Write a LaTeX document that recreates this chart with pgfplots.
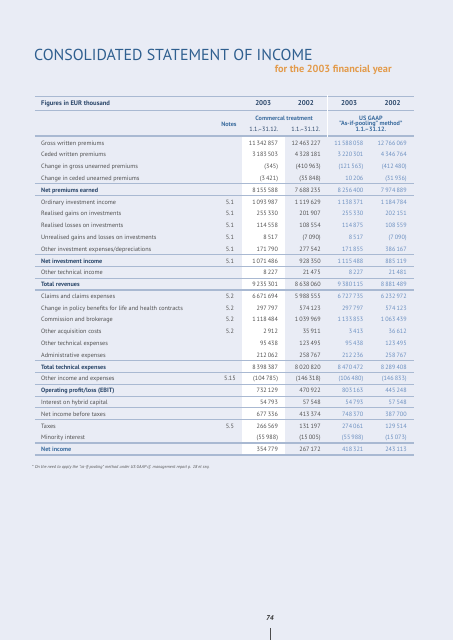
\documentclass[border=0pt]{standalone}
\usepackage{pgfplots}
\pgfplotsset{compat=1.18}
\usepackage{fontspec}
\setmainfont{PT Sans}
\definecolor{bg}{HTML}{E9ECF5}
\definecolor{rule}{HTML}{A9B9D2}
\definecolor{titleblue}{HTML}{2F5F8F}
\definecolor{orng}{HTML}{E39B4B}
\definecolor{navy}{HTML}{2A4669}
\definecolor{labgray}{HTML}{505050}
\definecolor{subblue}{HTML}{3B6C9E}
\definecolor{gaap}{HTML}{6B8FC0}
\newcommand{\fs}{\fontsize{6.2}{7}\selectfont}
\tikzset{
  lab/.style={anchor=mid west,inner sep=0pt,text=labgray,font=\fs},
  labb/.style={anchor=mid west,inner sep=0pt,text=navy,font=\fs\bfseries},
  labn/.style={anchor=mid west,inner sep=0pt,text=subblue,font=\fs\bfseries},
  note/.style={anchor=mid,inner sep=0pt,text=labgray,font=\fs},
  num/.style={anchor=mid east,inner sep=0pt,text=labgray,font=\fs},
  gnum/.style={anchor=mid east,inner sep=0pt,text=gaap,font=\fs},
  rl/.style={draw=rule,line width=1pt},
  rt/.style={draw=rule,line width=1.6pt},
}
% \R{y}{label style}{label}{note}{v1}{v2}{v3}{v4}
\newcommand{\R}[8]{%
  \node[#2] at (axis cs:41,#1) {#3};
  \node[note] at (axis cs:230,#1) {#4};
  \node[num] at (axis cs:278.3,#1) {#5};
  \node[num] at (axis cs:321,#1) {#6};
  \node[gnum] at (axis cs:363.7,#1) {#7};
  \node[gnum] at (axis cs:407,#1) {#8};
}
\newcommand{\HL}[2]{\draw[#2] (axis cs:35,#1) -- (axis cs:414,#1);}
\begin{document}
\begin{tikzpicture}
\begin{axis}[
  width=453pt, height=640pt, scale only axis,
  xmin=0, xmax=453, ymin=0, ymax=640, y dir=reverse,
  axis line style={draw=none}, xtick=\empty, ytick=\empty,
  clip=false,
]
\fill[bg] (axis cs:0,0) rectangle (axis cs:453,640);
% title
\node[anchor=mid west,inner sep=0pt,text=titleblue,font=\fontsize{15.9}{16}\selectfont] at (axis cs:34,58) {CONSOLIDATED STATEMENT OF INCOME};
\node[anchor=mid east,inner sep=0pt,text=orng,font=\fontsize{10.3}{11}\selectfont\bfseries] at (axis cs:392,70) {for the 2003 financial year};
% white column
\fill[white] (axis cs:242,136.3) rectangle (axis cs:285,455.1);
% header
\HL{96.7}{rt}
\HL{110.7}{rl}
\HL{136.3}{rt}
\draw[white,line width=1pt] (axis cs:328,95.5) -- (axis cs:328,137.5);
\node[labb,font=\fontsize{6.6}{7}\selectfont\bfseries] at (axis cs:41,103.3) {Figures in EUR thousand};
\node[anchor=mid,inner sep=0pt,text=navy,font=\fontsize{7}{8}\selectfont\bfseries] at (axis cs:263.3,103.3) {2003};
\node[anchor=mid,inner sep=0pt,text=navy,font=\fontsize{7}{8}\selectfont\bfseries] at (axis cs:306,103.3) {2002};
\node[anchor=mid,inner sep=0pt,text=navy,font=\fontsize{7}{8}\selectfont\bfseries] at (axis cs:349.3,103.3) {2003};
\node[anchor=mid,inner sep=0pt,text=navy,font=\fontsize{7}{8}\selectfont\bfseries] at (axis cs:392.7,103.3) {2002};
\node[anchor=mid,inner sep=0pt,text=subblue,font=\fs\bfseries] at (axis cs:284.3,117.7) {Commercal treatment};
\node[anchor=mid,inner sep=0pt,text=subblue,font=\fs\bfseries] at (axis cs:229,123.7) {Notes};
\node[anchor=mid,inner sep=0pt,text=navy,font=\fs] at (axis cs:264,129.3) {1.1.–31.12.};
\node[anchor=mid,inner sep=0pt,text=navy,font=\fs] at (axis cs:306,129.3) {1.1.–31.12.};
\node[anchor=mid,inner sep=0pt,text=subblue,font=\fs\bfseries] at (axis cs:371,117.7) {US GAAP};
\node[anchor=mid,inner sep=0pt,text=subblue,font=\fs\bfseries] at (axis cs:371,123.5) {"As-if-pooling" method*};
\node[anchor=mid,inner sep=0pt,text=subblue,font=\fs\bfseries] at (axis cs:371,129.3) {1.1.–31.12.};
% separators
\HL{184.0}{rl}
\HL{195.8}{rl}
\HL{254.7}{rl}
\HL{266.5}{rl}
\HL{278.3}{rl}
\HL{290.1}{rt}
\HL{360.8}{rt}
\HL{372.6}{rl}
\HL{384.4}{rl}
\HL{396.2}{rl}
\HL{408.0}{rl}
\HL{419.8}{rl}
\HL{443.4}{rt}
\HL{455.1}{rt}
% rows
\R{142.7}{lab}{Gross written premiums}{}{11\,342\,857}{12\,463\,227}{11\,588\,058}{12\,766\,069}
\R{154.5}{lab}{Ceded written premiums}{}{3\,183\,503}{4\,328\,181}{3\,220\,301}{4\,346\,764}
\R{166.3}{lab}{Change in gross unearned premiums}{}{(345)}{(410\,963)}{(121\,563)}{(412\,480)}
\R{178.1}{lab}{Change in ceded unearned premiums}{}{(3\,421)}{(35\,848)}{10\,206}{(31\,936)}
\R{189.9}{labb}{Net premiums earned}{}{8\,155\,588}{7\,688\,235}{8\,256\,400}{7\,974\,889}
\R{201.7}{lab}{Ordinary investment income}{5.1}{1\,093\,987}{1\,119\,629}{1\,138\,371}{1\,184\,784}
\R{213.4}{lab}{Realised gains on investments}{5.1}{255\,330}{201\,907}{255\,330}{202\,151}
\R{225.2}{lab}{Realised losses on investments}{5.1}{114\,558}{108\,554}{114\,875}{108\,559}
\R{237.0}{lab}{Unrealised gains and losses on investments}{5.1}{8\,517}{(7\,090)}{8\,517}{(7\,090)}
\R{248.8}{lab}{Other investment expenses/depreciations}{5.1}{171\,790}{277\,542}{171\,855}{386\,167}
\R{260.6}{labb}{Net investment income}{5.1}{1\,071\,486}{928\,350}{1\,115\,488}{885\,119}
\R{272.4}{lab}{Other technical income}{}{8\,227}{21\,475}{8\,227}{21\,481}
\R{284.2}{labb}{Total revenues}{}{9\,235\,301}{8\,638\,060}{9\,380\,115}{8\,881\,489}
\R{296.0}{lab}{Claims and claims expenses}{5.2}{6\,671\,694}{5\,988\,555}{6\,727\,735}{6\,232\,972}
\R{307.8}{lab}{Change in policy benefits for life and health contracts}{5.2}{297\,797}{574\,123}{297\,797}{574\,123}
\R{319.6}{lab}{Commission and brokerage}{5.2}{1\,118\,484}{1\,039\,969}{1\,133\,853}{1\,063\,439}
\R{331.3}{lab}{Other acquisition costs}{5.2}{2\,912}{35\,911}{3\,413}{36\,612}
\R{343.1}{lab}{Other technical expenses}{}{95\,438}{123\,495}{95\,438}{123\,495}
\R{354.9}{lab}{Administrative expenses}{}{212\,062}{258\,767}{212\,236}{258\,767}
\R{366.7}{labb}{Total technical expenses}{}{8\,398\,387}{8\,020\,820}{8\,470\,472}{8\,289\,408}
\R{378.5}{lab}{Other income and expenses}{5.15}{(104\,785)}{(146\,318)}{(106\,480)}{(146\,833)}
\R{390.3}{labb}{Operating profit/loss (EBIT)}{}{732\,129}{470\,922}{803\,163}{445\,248}
\R{402.1}{lab}{Interest on hybrid capital}{}{54\,793}{57\,548}{54\,793}{57\,548}
\R{413.9}{lab}{Net income before taxes}{}{677\,336}{413\,374}{748\,370}{387\,700}
\R{425.7}{lab}{Taxes}{5.5}{266\,569}{131\,197}{274\,061}{129\,514}
\R{437.5}{lab}{Minority interest}{}{(55\,988)}{(15\,005)}{(55\,988)}{(15\,073)}
\R{449.2}{labn}{Net income}{}{354\,779}{267\,172}{418\,321}{243\,113}
% footnote
\node[anchor=mid west,inner sep=0pt,text=labgray,font=\fontsize{4.3}{5}\selectfont\itshape] at (axis cs:32,466) {* On the need to apply the "as-if-pooling" method under US GAAP cf. management report p. 18 et seq.};
% page number
\node[anchor=mid,inner sep=0pt,text=black!80,font=\fontsize{7}{8}\selectfont\bfseries\itshape] at (axis cs:270,618) {74};
\draw[black!70,line width=0.5pt] (axis cs:270,628) -- (axis cs:270,640);
\end{axis}
\end{tikzpicture}
\end{document}
